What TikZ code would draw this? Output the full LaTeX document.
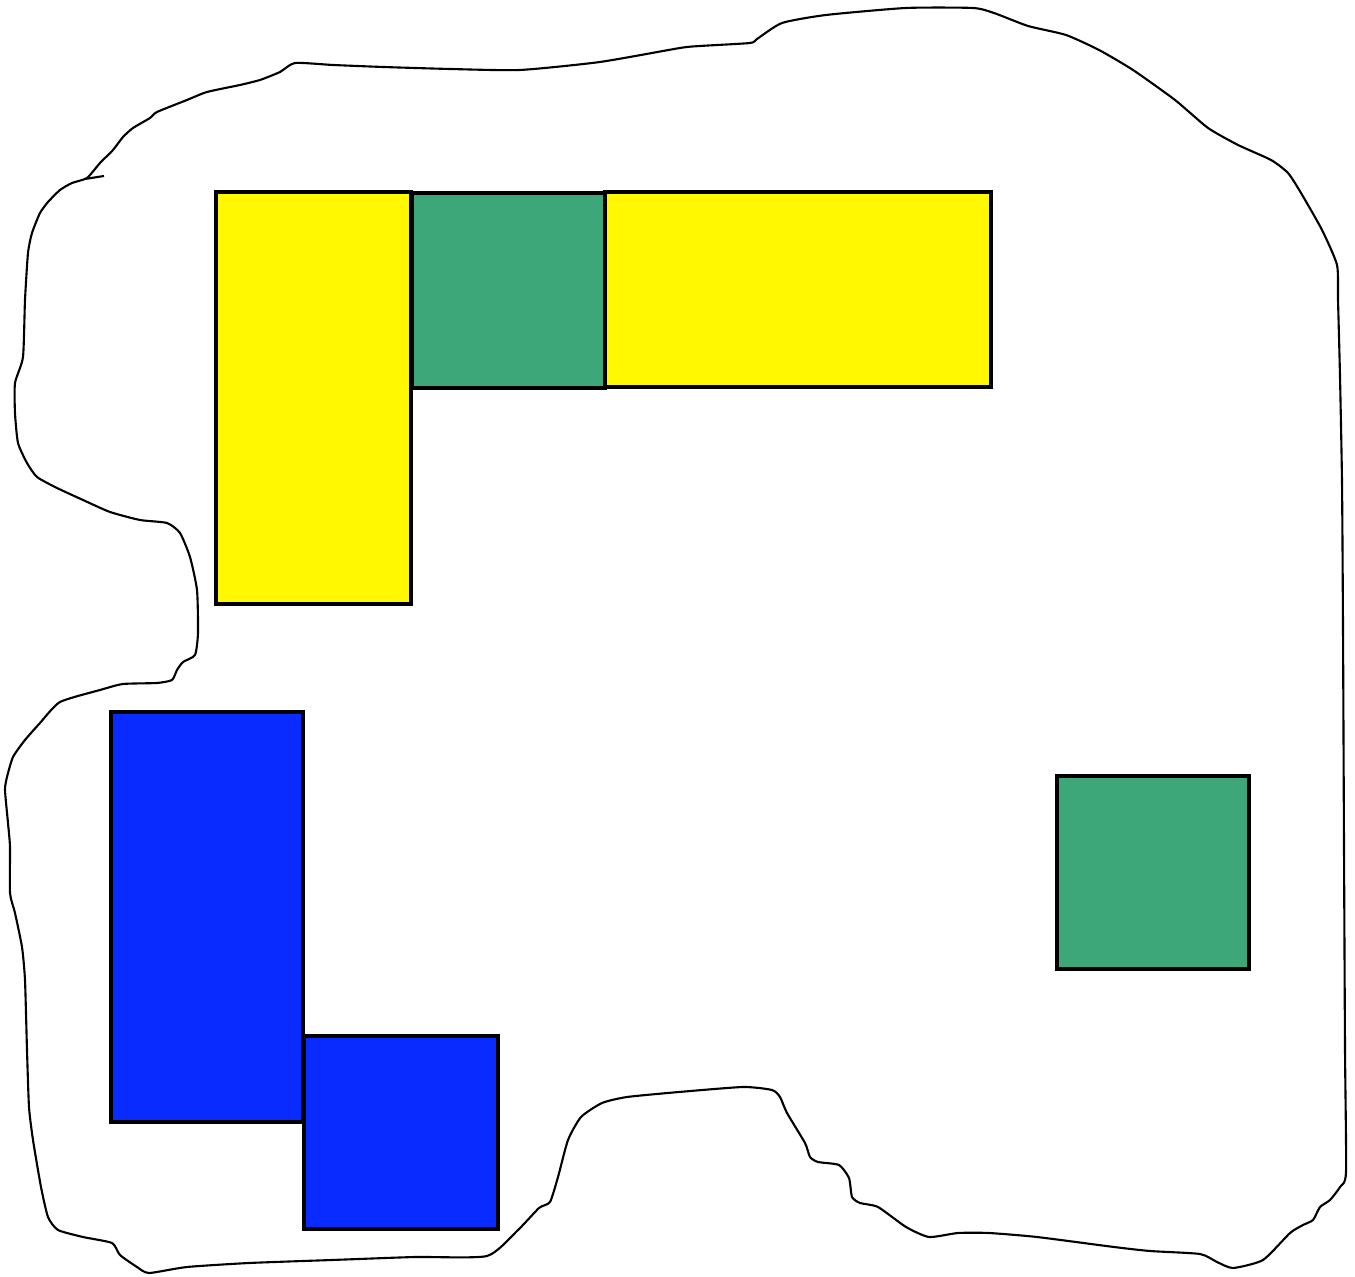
\documentclass[tikz,border=0pt]{standalone}
\usepackage{tikz}
\definecolor{fillyellow}{HTML}{FFF800}
\definecolor{fillgreen}{HTML}{3EA77A}
\definecolor{fillblue}{HTML}{0A2BFF}
\tikzset{
  blob/.style={draw=black, line width=0.6pt, line join=round},
  block/.style={draw=black, line width=0.9pt},
  yblock/.style={block, fill=fillyellow},
  gblock/.style={block, fill=fillgreen},
  bblock/.style={block, fill=fillblue}
}
\begin{document}
\begin{tikzpicture}[x=0.01cm, y=-0.01cm]
\useasboundingbox (0,0) rectangle (1355,1277);
% outline
\draw[blob] plot[smooth cycle, tension=0.35] coordinates {
(295,63) (333,65) (383,67) (450,69) (520,70) (600,62) (680,48) (700,46)
(750,43) (757,39) (782,23) (826,15) (906,8) (973,8) (994,13) (1028,26)
(1066,35) (1099,50) (1133,70) (1175,100) (1208,128) (1238,145) (1271,160)
(1288,173) (1301,193) (1322,230) (1337,265) (1338,300) (1340,377) (1342,483)
(1343,630) (1344,850) (1345,1050) (1346,1172) (1340,1187) (1330,1200) (1320,1207)
(1313,1220) (1303,1225) (1290,1233) (1263,1260) (1233,1268) (1217,1262) (1200,1254)
(1150,1251) (1114,1247) (1037,1237) (989,1233) (958,1233) (929,1237) (906,1227)
(878,1207) (860,1203) (852,1197) (849,1178) (839,1165) (818,1162) (810,1157)
(805,1143) (787,1113) (780,1097) (772,1090) (743,1087) (679,1092) (627,1097)
(602,1103) (581,1117) (568,1140) (558,1177) (550,1202) (539,1208) (518,1230)
(487,1256) (415,1257) (332,1260) (249,1263) (187,1267) (149,1273) (137,1267)
(120,1255) (112,1243) (83,1237) (58,1230) (48,1217) (41,1187) (33,1140)
(29,1107) (27,1050) (25,980) (22,947) (15,913) (10,893) (10,847) (8,823)
(5,790) (7,777) (13,757) (25,740) (40,723) (60,702) (100,690) (123,684)
(157,683) (172,680) (177,670) (183,662) (195,655) (198,633) (197,590)
(190,557) (180,533) (167,523) (140,520) (110,512) (83,500) (57,488) (37,477)
(27,463) (18,443) (15,413) (15,383) (23,357) (25,300) (28,253) (32,233)
(40,213) (48,202) (60,190) (72,183) (87,178) (100,163) (113,150) (123,137)
(133,128) (150,118) (157,112) (187,100) (207,92) (240,85) (260,80) (280,72)
};
\coordinate (tickA) at (85,179);
\coordinate (tickB) at (104,176);
\draw[blob] (tickA) -- (tickB);
% yellow L
\draw[yblock] (216,192) rectangle (411,604);
\draw[yblock] (605,192) rectangle (991,387);
\draw[gblock] (412,193) rectangle (605,388);
% blue
\draw[bblock] (111,712) rectangle (303,1122);
\draw[bblock] (304,1036) rectangle (498,1229);
% green right
\draw[gblock] (1057,776) rectangle (1249,969);
\end{tikzpicture}
\end{document}
